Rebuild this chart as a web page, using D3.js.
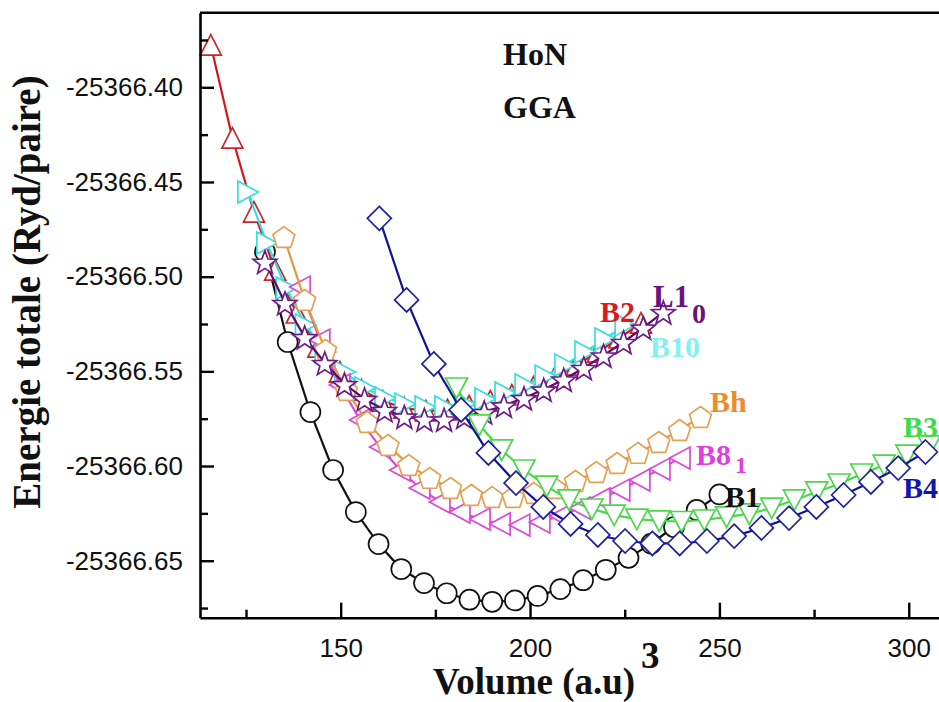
<!DOCTYPE html>
<html>
<head>
<meta charset="utf-8">
<script src="https://cdn.jsdelivr.net/npm/d3@7"></script>
<style>
  body { margin: 0; background: #fff; }
  svg { display: block; }
</style>
</head>
<body>
<svg id="chart" width="939" height="702"></svg>
<script>
// HoN, GGA: total energy (Ryd/pair) versus volume (a.u^3) for each structure

const volB1 = [130, 136, 142, 148, 154, 160, 166, 172, 178, 184, 190, 196, 202, 208, 214, 220, 226, 232, 238, 244, 250];
const eB1 = [-25366.4868, -25366.5345, -25366.5715, -25366.6021, -25366.6243, -25366.6412, -25366.6544, -25366.6618, -25366.6672, -25366.6706, -25366.6717, -25366.6710, -25366.6686, -25366.6650, -25366.6603, -25366.6548, -25366.6485, -25366.6410, -25366.6322, -25366.6232, -25366.6150];

const volB2 = [115.7, 121.4, 127.1, 132.7, 138.4, 144.1, 149.8, 155.5, 161.1, 166.8, 172.5, 178.2, 183.9, 189.5, 195.2, 200.9, 206.6, 212.3, 217.9, 223.6, 229.3];
const eB2 = [-25366.3777, -25366.4268, -25366.4659, -25366.4965, -25366.5192, -25366.5372, -25366.5504, -25366.5599, -25366.5657, -25366.5694, -25366.5709, -25366.5704, -25366.5683, -25366.5657, -25366.5625, -25366.5583, -25366.5530, -25366.5467, -25366.5398, -25366.5324, -25366.5245];

const volB10 = [125.5, 130.5, 135.6, 140.7, 145.9, 151.1, 156.4, 161.7, 167.0, 172.3, 177.5, 182.8, 188.1, 193.4, 198.7, 204.0, 209.2, 214.5, 219.8, 225.1];
const eB10 = [-25366.4553, -25366.4822, -25366.5060, -25366.5255, -25366.5398, -25366.5504, -25366.5588, -25366.5641, -25366.5673, -25366.5688, -25366.5688, -25366.5673, -25366.5646, -25366.5614, -25366.5572, -25366.5525, -25366.5467, -25366.5398, -25366.5329, -25366.5255];

const volL10 = [130.0, 135.3, 140.5, 145.8, 151.0, 156.3, 161.6, 166.8, 172.1, 177.3, 182.6, 187.9, 193.1, 198.4, 203.6, 208.9, 214.2, 219.4, 224.7, 229.9, 235.2];
const eL10 = [-25366.4921, -25366.5139, -25366.5319, -25366.5456, -25366.5567, -25366.5646, -25366.5704, -25366.5739, -25366.5754, -25366.5754, -25366.5739, -25366.5715, -25366.5680, -25366.5641, -25366.5596, -25366.5543, -25366.5482, -25366.5416, -25366.5345, -25366.5269, -25366.5187];

const volBh = [135, 140.5, 146, 151.5, 157, 162.5, 168, 173.5, 179, 184.5, 190, 195.5, 201, 206.5, 212, 217.5, 223, 228.5, 234, 239.5, 245];
const eBh = [-25366.4791, -25366.5123, -25366.5387, -25366.5599, -25366.5768, -25366.5889, -25366.5995, -25366.6063, -25366.6116, -25366.6153, -25366.6164, -25366.6164, -25366.6143, -25366.6116, -25366.6079, -25366.6032, -25366.5984, -25366.5931, -25366.5873, -25366.5810, -25366.5741];

const volB81 = [139.3, 144.5, 149.8, 155.1, 160.4, 165.7, 170.9, 176.2, 181.5, 186.8, 192.1, 197.3, 202.6, 207.9, 213.2, 218.5, 223.7, 229.0, 234.3, 239.6];
const eB81 = [-25366.5055, -25366.5335, -25366.5572, -25366.5757, -25366.5900, -25366.6021, -25366.6116, -25366.6190, -25366.6243, -25366.6280, -25366.6306, -25366.6312, -25366.6296, -25366.6264, -25366.6222, -25366.6174, -25366.6127, -25366.6074, -25366.6016, -25366.5958];

const volB3 = [180.6, 186.6, 192.5, 198.4, 204.4, 210.3, 216.3, 222.2, 228.2, 234.1, 240.0, 246.0, 251.9, 257.9, 263.8, 269.8, 275.7, 281.6, 287.6, 293.5, 299.5, 305.4];
const eB3 = [-25366.5588, -25366.5783, -25366.5915, -25366.6021, -25366.6106, -25366.6179, -25366.6227, -25366.6259, -25366.6280, -25366.6290, -25366.6293, -25366.6285, -25366.6269, -25366.6253, -25366.6222, -25366.6179, -25366.6137, -25366.6095, -25366.6042, -25366.5995, -25366.5942, -25366.5894];

const volB4 = [160.2, 167.4, 174.6, 181.8, 189.0, 196.3, 203.5, 210.7, 217.9, 225.1, 232.3, 239.5, 246.7, 253.9, 261.1, 268.4, 275.6, 282.8, 290.0, 297.2, 304.4];
const eB4 = [-25366.4692, -25366.5123, -25366.5461, -25366.5704, -25366.5931, -25366.6090, -25366.6216, -25366.6306, -25366.6364, -25366.6396, -25366.6409, -25366.6409, -25366.6396, -25366.6370, -25366.6327, -25366.6275, -25366.6216, -25366.6153, -25366.6084, -25366.6011, -25366.5926];

const xMajorTicks = [150, 200, 250, 300];
const xMinorTicks = [125, 175, 225, 275];
const xTickLabels = ["150", "200", "250", "300"];
const yMajorTicks = [-25366.40, -25366.45, -25366.50, -25366.55, -25366.60, -25366.65];
const yMinorTicks = [-25366.375, -25366.425, -25366.475, -25366.525, -25366.575, -25366.625, -25366.675];
const yTickLabels = ["-25366.40", "-25366.45", "-25366.50", "-25366.55", "-25366.60", "-25366.65"];

// Drawing order and styling of each structure
const series = [
  { vol: volB1,  e: eB1,  color: "#111111", line: "#111111", shape: "circle" },
  { vol: volB2,  e: eB2,  color: "#c8262c", line: "#d01818", shape: "triUp" },
  { vol: volB10, e: eB10, color: "#38dede", line: "#38dede", shape: "triRight" },
  { vol: volB81, e: eB81, color: "#dc48dc", line: "#dc48dc", shape: "triLeft" },
  { vol: volBh,  e: eBh,  color: "#e3a152", line: "#e39a3e", shape: "pentagon" },
  { vol: volL10, e: eL10, color: "#6c1c84", line: "#5a0a70", shape: "star" },
  { vol: volB3,  e: eB3,  color: "#4ad84a", line: "#4ad84a", shape: "triDown" },
  { vol: volB4,  e: eB4,  color: "#22229a", line: "#10109a", shape: "diamond" }
];

const svg = d3.select("#chart");
const plotLeft = 200, plotTop = 12.7, plotBottom = 617.7, plotRight = 984.5;

const x = d3.scaleLinear().domain([112.85, 320]).range([plotLeft, plotRight]);
const y = d3.scaleLinear().domain([-25366.6801, -25366.3606]).range([plotBottom, plotTop]);

// Marker outlines, centred on the data point
function shapePath(shape) {
  const p = d3.path();
  if (shape === "circle") {
    p.arc(0, 0, 10, 0, 2 * Math.PI);
  } else if (shape === "triUp") {
    p.moveTo(0, -10.5); p.lineTo(10.5, 10); p.lineTo(-10.5, 10); p.closePath();
  } else if (shape === "triDown") {
    p.moveTo(-11, -10); p.lineTo(11, -10); p.lineTo(0, 10.5); p.closePath();
  } else if (shape === "triLeft") {
    p.moveTo(-10.5, 0); p.lineTo(10, -11); p.lineTo(10, 11); p.closePath();
  } else if (shape === "triRight") {
    p.moveTo(10.5, 0); p.lineTo(-10, -11); p.lineTo(-10, 11); p.closePath();
  } else if (shape === "diamond") {
    p.moveTo(0, -12); p.lineTo(12, 0); p.lineTo(0, 12); p.lineTo(-12, 0); p.closePath();
  } else if (shape === "pentagon") {
    for (let k = 0; k < 5; k++) {
      const a = -Math.PI / 2 + k * 2 * Math.PI / 5;
      const px = 11.5 * Math.cos(a), py = 11.5 * Math.sin(a) + 1;
      if (k === 0) p.moveTo(px, py); else p.lineTo(px, py);
    }
    p.closePath();
  } else if (shape === "star") {
    for (let k = 0; k < 10; k++) {
      const a = -Math.PI / 2 + k * Math.PI / 5;
      const r = k % 2 === 0 ? 12.5 : 5.2;
      const px = r * Math.cos(a), py = r * Math.sin(a) + 1.5;
      if (k === 0) p.moveTo(px, py); else p.lineTo(px, py);
    }
    p.closePath();
  }
  return p.toString();
}

const line = d3.line().x(d => x(d[0])).y(d => y(d[1]));

series.forEach(s => {
  const pts = d3.zip(s.vol, s.e);
  const g = svg.append("g");
  g.append("path")
    .datum(pts)
    .attr("d", line)
    .attr("fill", "none")
    .attr("stroke", s.line)
    .attr("stroke-width", 2.2);
  g.selectAll("path.mark")
    .data(pts)
    .join("path")
    .attr("class", "mark")
    .attr("transform", d => `translate(${x(d[0])},${y(d[1])})`)
    .attr("d", shapePath(s.shape))
    .attr("fill", "#fff")
    .attr("stroke", s.color)
    .attr("stroke-width", 1.7)
    .attr("stroke-linejoin", "miter");
});

// Axes (ticks point into the plot)
const tickFont = "'Liberation Sans', Arial, sans-serif";

const gxMinor = svg.append("g").attr("transform", `translate(0,${plotBottom})`)
  .call(d3.axisBottom(x).tickValues(xMinorTicks).tickSize(-8).tickSizeOuter(0).tickFormat(""));
gxMinor.select(".domain").remove();

const gx = svg.append("g").attr("transform", `translate(0,${plotBottom})`)
  .call(d3.axisBottom(x).tickValues(xMajorTicks).tickSize(-15).tickSizeOuter(0)
    .tickFormat((d, i) => xTickLabels[i]));
gx.selectAll("text").attr("y", 39.5).attr("dy", null);

const gyMinor = svg.append("g").attr("transform", `translate(${plotLeft},0)`)
  .call(d3.axisLeft(y).tickValues(yMinorTicks).tickSize(-8).tickSizeOuter(0).tickFormat(""));
gyMinor.select(".domain").remove();

const gy = svg.append("g").attr("transform", `translate(${plotLeft},0)`)
  .call(d3.axisLeft(y).tickValues(yMajorTicks).tickSize(-14).tickSizeOuter(0).tickPadding(17)
    .tickFormat((d, i) => yTickLabels[i]));

[gx, gy, gxMinor, gyMinor].forEach(g => {
  g.selectAll(".domain").attr("stroke", "#000").attr("stroke-width", 2.6);
  g.selectAll(".tick line").attr("stroke", "#000").attr("stroke-width", 2.4);
  g.selectAll("text").attr("font-family", tickFont).attr("font-size", 26).attr("fill", "#111");
});

// Top border of the frame
svg.append("line")
  .attr("x1", plotLeft).attr("x2", plotRight)
  .attr("y1", plotTop).attr("y2", plotTop)
  .attr("stroke", "#000").attr("stroke-width", 2.6);

// Titles and labels
const serif = "'Liberation Serif', 'Times New Roman', serif";
function label(txt, px, py, size, color, anchor) {
  svg.append("text")
    .attr("x", px).attr("y", py)
    .attr("font-family", serif).attr("font-weight", "bold")
    .attr("font-size", size).attr("fill", color)
    .attr("text-anchor", anchor || "start")
    .text(txt);
}

label("HoN", 503, 65, 32, "#111");
label("GGA", 503, 118, 32, "#111");

label("B2", 600, 322, 30, "#d81c1c");
label("L1", 653, 307, 31, "#6a1380");
label("0", 692, 323, 28, "#6a1380");
label("B10", 650, 357, 30, "#86f0f0");
label("Bh", 710, 412, 30, "#ee8c2a");
label("B8", 696, 465, 30, "#e03ee0");
label("1", 735, 473, 24, "#e03ee0");
label("B1", 725, 507, 30, "#111");
label("B3", 903, 437, 30, "#3edc3e");
label("B4", 903, 498, 30, "#1414b0");

// Axis titles
label("Volume (a.u)", 433, 694, 37, "#111");
label("3", 641, 668, 37, "#111");

svg.append("text")
  .attr("transform", "translate(40,292) rotate(-90)")
  .attr("font-family", serif).attr("font-weight", "bold")
  .attr("font-size", 39).attr("fill", "#111")
  .attr("text-anchor", "middle")
  .text("Energie totale (Ryd/paire)");
</script>
</body>
</html>
